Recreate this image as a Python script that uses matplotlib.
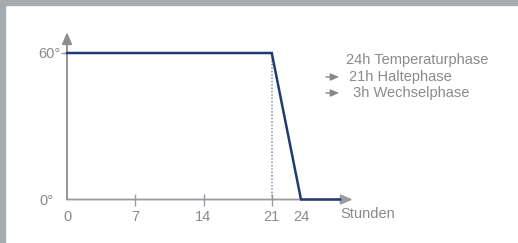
import matplotlib
matplotlib.use("Agg")
import matplotlib.pyplot as plt
from matplotlib.patches import Rectangle, FancyArrowPatch

plt.rcParams['font.family'] = ['Liberation Sans', 'DejaVu Sans']

# Data
hours = [0, 21, 24, 28]
temps = [60, 60, 0, 0]
xticks = [0, 7, 14, 21, 24]
yticks = [0, 60]
ytick_labels = ["0°", "60°"]
phase_hour = 21
legend_lines = ["24h Temperaturphase", "21h Haltephase", " 3h Wechselphase"]
xlabel = "Stunden"

W, H = 518, 243
fig = plt.figure(figsize=(W / 100, H / 100), dpi=100)
fig.patch.set_facecolor('white')

# grey frame (left and top strips)
grey = '#a8abae'
fig.patches.append(Rectangle((0, 0), 5 / W, 1, transform=fig.transFigure, color=grey, zorder=0))
fig.patches.append(Rectangle((0, 1 - 5 / H), 1, 5 / H, transform=fig.transFigure, color=grey, zorder=0))

# axes placement (pixel-based)
x0_px, y0_px = 67, 199.5
px_per_h = 9.75
px_per_deg = (199.5 - 53) / 60
xmax, ymax = 30, 70
ax = fig.add_axes([x0_px / W, (H - y0_px) / H, xmax * px_per_h / W, ymax * px_per_deg / H])
ax.set_xlim(0, xmax)
ax.set_ylim(0, ymax)
ax.patch.set_alpha(0)
for s in ax.spines.values():
    s.set_visible(False)

axis_col = '#9a9aa2'
text_col = '#8a8a8a'
line_col = '#1f3b72'
fs = 10.5

# axes with arrow heads
ax.annotate('', xy=(29.3, 0), xytext=(0, 0),
            arrowprops=dict(arrowstyle='-|>,head_length=0.7,head_width=0.3', color=axis_col, lw=1.3,
                            shrinkA=0, shrinkB=0), annotation_clip=False)
ax.annotate('', xy=(0, 68.5), xytext=(0, 0),
            arrowprops=dict(arrowstyle='-|>,head_length=0.7,head_width=0.3', color='#8e8e92', lw=1.3,
                            shrinkA=0, shrinkB=0), annotation_clip=False)

# dotted marker at phase change
ax.plot([phase_hour, phase_hour], [0, temps[1]], color='#8590ad', lw=1.1, ls=(0, (1.0, 1.2)), zorder=2)

# main curve
ax.plot(hours, temps, color=line_col, lw=1.8, solid_joinstyle='miter', zorder=3, clip_on=False)

# ticks
ax.set_xticks(xticks)
ax.set_xticklabels([str(t) for t in xticks])
ax.tick_params(axis='x', direction='inout', length=8, width=1.0, color=axis_col,
               labelcolor=text_col, labelsize=fs, pad=3.5)
ax.xaxis.get_major_ticks()[0].tick1line.set_visible(False)
ax.xaxis.get_major_ticks()[-1].tick1line.set_visible(False)
ax.set_yticks(yticks)
ax.set_yticklabels(ytick_labels)
ax.tick_params(axis='y', direction='out', length=4, width=1.0, color=axis_col,
               labelcolor=text_col, labelsize=fs, pad=0.5)
ax.yaxis.get_major_ticks()[0].tick1line.set_visible(False)
ax.yaxis.get_major_ticks()[0].set_pad(6)

# x label
ax.text((340 - x0_px) / px_per_h, (y0_px - 214) / (ymax * px_per_deg), xlabel,
        transform=ax.get_xaxis_transform(), ha='left', va='center', color=text_col, fontsize=fs)

# legend text
fig.text(346 / W, 1 - 60 / H, legend_lines[0], ha='left', va='center', color=text_col, fontsize=fs)
fig.text(349 / W, 1 - 77 / H, legend_lines[1], ha='left', va='center', color=text_col, fontsize=fs)
fig.text(349 / W, 1 - 93 / H, legend_lines[2], ha='left', va='center', color=text_col, fontsize=fs)
for yy in (77, 93):
    fig.add_artist(FancyArrowPatch(
        (326 / W, 1 - yy / H), (339 / W, 1 - yy / H), transform=fig.transFigure,
        arrowstyle='-|>,head_length=0.5,head_width=0.22', color=text_col, lw=1.0,
        mutation_scale=10, shrinkA=0, shrinkB=0))

fig.savefig('out.png', dpi=100)
